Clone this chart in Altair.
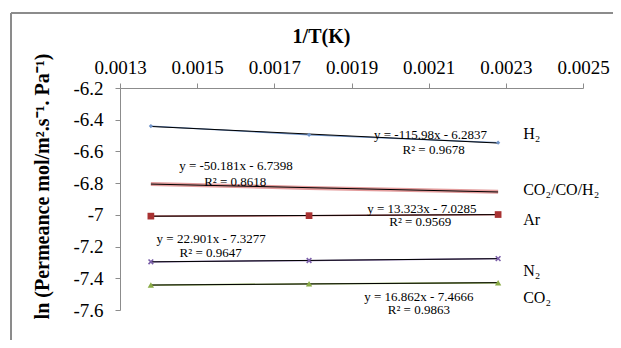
import altair as alt
import pandas as pd

# ---- data ----
INV_T = [0.00138, 0.00179, 0.00228]
SERIES = ["H2", "MIX", "Ar", "N2", "CO2"]
VALUES = {
    "H2":  [-6.440, -6.495, -6.545],
    "MIX": [-6.805, -6.830, -6.855],
    "Ar":  [-7.008, -7.005, -6.998],
    "N2":  [-7.296, -7.288, -7.276],
    "CO2": [-7.443, -7.435, -7.428],
}
SERIES_LABELS = ["H₂", "CO₂/CO/H₂", "Ar", "N₂", "CO₂"]
LABEL_Y = [-6.489, -6.846, -7.031, -7.351, -7.524]
LABEL_X = 0.002345

EQUATIONS = ["y = -115.98x - 6.2837", "y = -50.181x - 6.7398", "y = 13.323x - 7.0285",
             "y = 22.901x - 7.3277", "y = 16.862x - 7.4666"]
R2 = ["R² = 0.9678", "R² = 0.8618", "R² = 0.9569", "R² = 0.9647", "R² = 0.9863"]
EQ_X = [0.0021047, 0.0016004, 0.0020822, 0.0015363, 0.0020745]
EQ_Y = [-6.495, -6.695, -6.964, -7.151, -7.516]
R2_X = [0.0021128, 0.0015986, 0.0020783, 0.0015350, 0.0020745]
R2_Y = [-6.590, -6.790, -7.048, -7.240, -7.600]

X_TICKS = [0.0013, 0.0015, 0.0017, 0.0019, 0.0021, 0.0023, 0.0025]
Y_TICKS = [-6.2, -6.4, -6.6, -6.8, -7.0, -7.2, -7.4, -7.6]

COLORS = {"H2": "#6f93c8", "MIX": "#e39c9c", "Ar": "#a83232", "N2": "#7a5ea8", "CO2": "#8aac46"}
FONT = "Liberation Serif"

rows = []
for s in SERIES:
    for xv, yv in zip(INV_T, VALUES[s]):
        rows.append({"series": s, "x": xv, "y": yv})
df = pd.DataFrame(rows)

ann = pd.DataFrame({
    "x": EQ_X + R2_X,
    "y": EQ_Y + R2_Y,
    "t": EQUATIONS + R2,
})
lab = pd.DataFrame({"x": [LABEL_X] * len(SERIES_LABELS), "y": LABEL_Y, "t": SERIES_LABELS})

xscale = alt.Scale(domain=[0.0013, 0.0025], nice=False, zero=False)
yscale = alt.Scale(domain=[-7.6, -6.2], nice=False, zero=False)

xaxis = alt.Axis(
    orient="top", values=X_TICKS, format=".4f", grid=False,
    title="1/T(K)", titleFontSize=20, titleFontWeight="bold",
    titleColor="black", titleX=201, titleY=-52, titleBaseline="middle", titleAlign="center",
    labelFontSize=19, labelColor="black", labelPadding=6,
    tickSize=5, tickColor="#8c8c8c", domainColor="#8c8c8c", labelFlush=False,
)
yaxis = alt.Axis(
    values=Y_TICKS, grid=False, labelExpr="toString(datum.value)",
    title="ln (Permeance mol/m².s⁻¹. Pa⁻¹)", titleFontSize=20,
    titleFontWeight="bold", titleColor="black", titleAngle=270,
    titleX=-78, titleY=98, titleBaseline="middle", titleAlign="center",
    labelFontSize=19, labelColor="black", labelPadding=12,
    tickSize=5, tickColor="#8c8c8c", domainColor="#8c8c8c",
)

base = alt.Chart(df)
X = alt.X("x:Q", scale=xscale, axis=xaxis)
Y = alt.Y("y:Q", scale=yscale, axis=yaxis)

layers = []
# frame of the chart area
layers.append(alt.Chart(df).mark_rule(color="#8c8c8c", strokeWidth=1.3).encode(
    x=alt.value(-109), y=alt.value(-75), y2=alt.value(300)))
layers.append(alt.Chart(df).mark_rule(color="#8c8c8c", strokeWidth=1.3).encode(
    x=alt.value(-109), x2=alt.value(600), y=alt.value(-75)))

for s in SERIES:
    sub = base.transform_filter(alt.datum.series == s)
    w = 4 if s == "MIX" else 1.3
    layers.append(sub.mark_line(color=COLORS[s], strokeWidth=w).encode(x=X, y=Y))
    layers.append(sub.transform_regression("x", "y").mark_line(color="black", strokeWidth=1)
                  .encode(x=X, y=Y))

mk = {
    "H2": dict(shape="diamond", size=18, filled=True),
    "Ar": dict(shape="square", size=45, filled=True),
    "N2": dict(shape="M-1,-1L1,1M-1,1L1,-1", size=22, filled=False, strokeWidth=1.6),
    "CO2": dict(shape="triangle-up", size=40, filled=True),
}
for s, kw in mk.items():
    sub = base.transform_filter(alt.datum.series == s)
    layers.append(sub.mark_point(color=COLORS[s], opacity=1, **kw).encode(x=X, y=Y))

layers.append(alt.Chart(ann).mark_text(fontSize=13, color="black",
                                        align="center", baseline="middle")
              .encode(x=X, y=Y, text="t:N"))
layers.append(alt.Chart(lab).mark_text(fontSize=16, color="black",
                                        align="left", baseline="middle")
              .encode(x=X, y=Y, text="t:N"))

chart = alt.layer(*layers).properties(
    width=463, height=222,
    autosize=alt.AutoSizeParams(type="none"),
    padding={"left": 112, "top": 80, "right": 30, "bottom": 30},
    background="white",
).configure(font=FONT).configure_axis(
    labelFont=FONT, titleFont=FONT
).configure_text(font=FONT).configure_view(stroke=None)

chart.save("out.html", embed_options={"renderer": "svg", "actions": False})
